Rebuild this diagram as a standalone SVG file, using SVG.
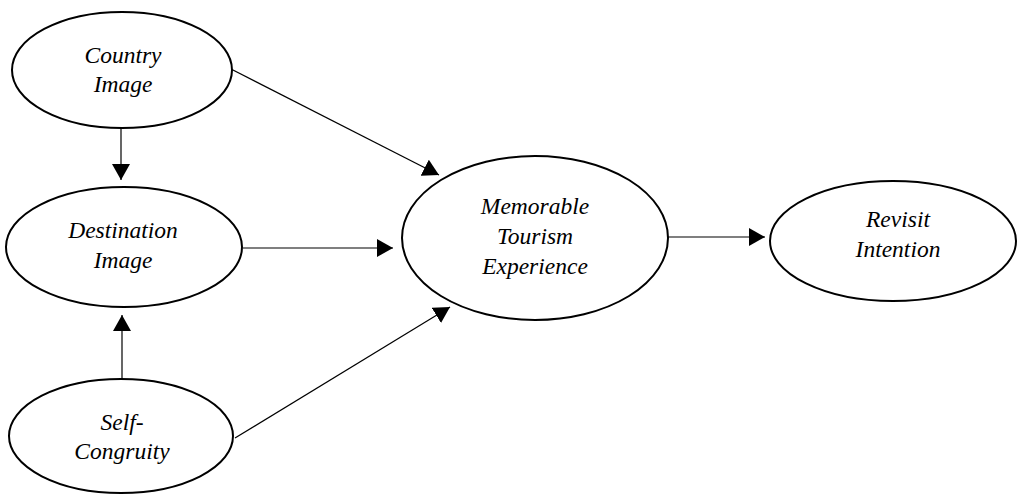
<svg xmlns="http://www.w3.org/2000/svg" width="1017" height="494" viewBox="0 0 1017 494">
<style>
.node ellipse{fill:#fff;stroke:#000;stroke-width:2}
.node text{font-family:"Liberation Serif","Times New Roman",serif;font-style:italic;font-size:23.5px;text-anchor:middle;fill:#000}
.edge{stroke:#000;stroke-width:1.2;fill:none;marker-end:url(#ah)}
</style>
<defs>
<marker id="ah" markerUnits="userSpaceOnUse" markerWidth="16" markerHeight="18" refX="16" refY="9" orient="auto" viewBox="0 0 16 18">
<path d="M0,0 L16,9 L0,18 Z" fill="#000"/>
</marker>
</defs>
<rect width="1017" height="494" fill="#fff"/>
<g id="connectors">
<line class="edge" x1="121" y1="128" x2="121" y2="180"/>
<line class="edge" x1="122" y1="379" x2="122" y2="315"/>
<line class="edge" x1="243" y1="248" x2="393" y2="248"/>
<line class="edge" x1="231" y1="69" x2="439" y2="175"/>
<line class="edge" x1="235" y1="438" x2="450" y2="307"/>
<line class="edge" x1="668" y1="237" x2="765" y2="237"/>
</g>
<g id="country-image" class="node">
<ellipse cx="122" cy="70" rx="110" ry="58"/>
<text x="123" y="63">Country</text>
<text x="123" y="92">Image</text>
</g>
<g id="destination-image" class="node">
<ellipse cx="124" cy="247" rx="118" ry="60"/>
<text x="123" y="238">Destination</text>
<text x="123" y="268">Image</text>
</g>
<g id="self-congruity" class="node">
<ellipse cx="121" cy="436" rx="112" ry="57"/>
<text x="122" y="430">Self-</text>
<text x="122" y="459">Congruity</text>
</g>
<g id="memorable-tourism-experience" class="node">
<ellipse cx="535" cy="238" rx="133" ry="82"/>
<text x="535" y="214">Memorable</text>
<text x="535" y="244">Tourism</text>
<text x="535" y="274">Experience</text>
</g>
<g id="revisit-intention" class="node">
<ellipse cx="893" cy="241" rx="123" ry="60"/>
<text x="898" y="227">Revisit</text>
<text x="898" y="257">Intention</text>
</g>
</svg>
